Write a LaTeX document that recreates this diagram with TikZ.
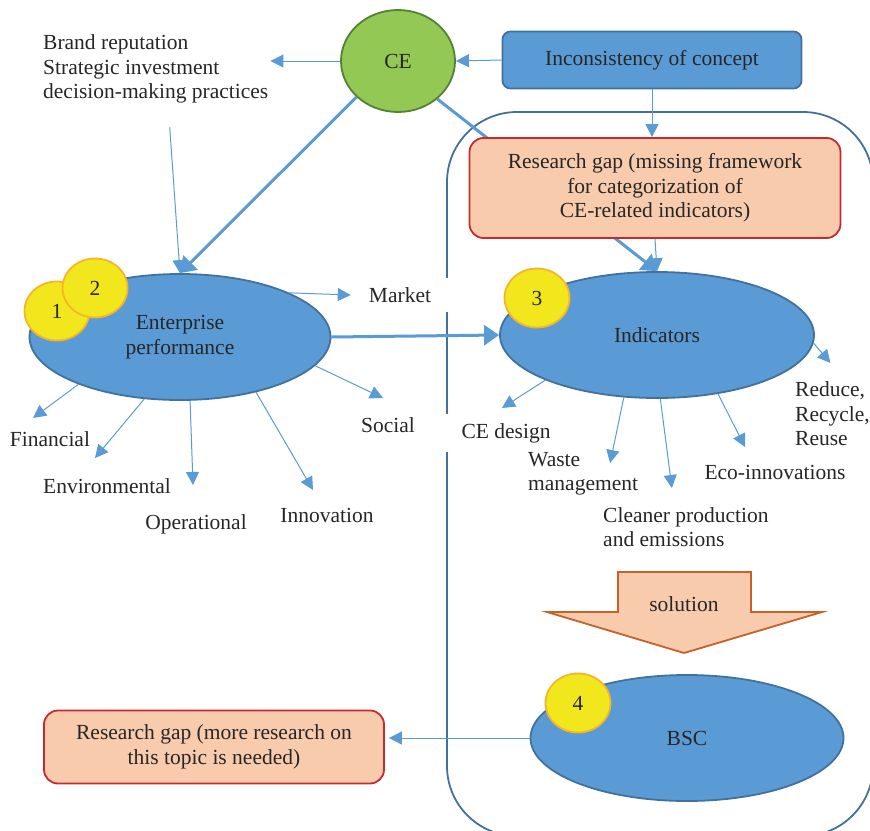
\documentclass[tikz,border=0pt]{standalone}
\usepackage{fontspec}
\setmainfont{Liberation Serif}
\usepackage{tikz}
\usetikzlibrary{shapes}
\usetikzlibrary{positioning}
\usetikzlibrary{calc}
\usetikzlibrary{arrows.meta}
\pgfdeclarelayer{back}
\pgfsetlayers{back,main}
\definecolor{ovalblue}{HTML}{5B9BD5}
\definecolor{ovaledge}{HTML}{41719C}
\definecolor{cegreen}{HTML}{92C853}
\definecolor{ceedge}{HTML}{538135}
\definecolor{badgefill}{HTML}{F2E71C}
\definecolor{badgeedge}{HTML}{F6B42B}
\definecolor{peach}{HTML}{F8CBAD}
\definecolor{gapedge}{HTML}{C62A2F}
\definecolor{soledge}{HTML}{C8602A}
\definecolor{ink}{HTML}{262626}
\tikzstyle{oval}=[ellipse,draw=ovaledge,fill=ovalblue,line width=1.8pt,minimum width=314pt,minimum height=126pt,align=center]
\tikzstyle{bubble}=[ellipse,draw=ceedge,fill=cegreen,line width=1.8pt,minimum width=114pt,minimum height=102pt]
\tikzstyle{badge}=[ellipse,draw=badgeedge,fill=badgefill,line width=1.8pt,minimum width=65pt,minimum height=59pt,inner sep=0pt]
\tikzstyle{gapbox}=[rectangle,rounded corners=14pt,draw=gapedge,fill=peach,line width=1.8pt,align=center]
\tikzstyle{conceptbox}=[rectangle,rounded corners=8pt,draw=ovaledge,fill=ovalblue,line width=1.8pt,minimum width=299pt,minimum height=57pt]
\tikzstyle{lbl}=[inner sep=2pt,align=left]
\tikzstyle{link}=[draw=ovalblue,line width=1pt,-{Triangle[length=13pt,width=13pt]}]
\tikzstyle{mainlink}=[draw=ovalblue,line width=3pt,-{Triangle[length=15pt,width=20pt]}]
\tikzstyle{frame}=[draw=ovaledge,line width=1.8pt,rounded corners=70pt]
\tikzstyle{blockarrow}=[draw=soledge,fill=peach,line width=1.8pt]

\begin{document}
\begin{tikzpicture}[x=1pt,y=-1pt,font=\fontsize{21.5}{24.5}\selectfont,text=ink]
	\useasboundingbox (0,0) rectangle (870,830);

	\node[bubble] (ce) at (398,61) {CE};
	\node[conceptbox] (incons) at (652,60) {Inconsistency of concept};
	\node[gapbox,minimum width=371pt,minimum height=100pt] (gaptop) at (655,188) {Research gap (missing framework\\for categorization of\\CE-related indicators)};

	\node[oval,minimum width=301pt] (perf) at (180,337) {Enterprise\\performance};
	\node[badge] (one) at (57,311) {1};
	\node[badge] (two) at (95,288) {2};
	\node[oval] (ind) at (657,335) {Indicators};
	\node[badge] (three) at (537,298) {3};
	\node[oval,minimum width=313pt] (bsc) at (687,738) {BSC};
	\node[badge] (four) at (578,703) {4};
	\node[gapbox,minimum width=340pt,minimum height=73pt] (gapbot) at (214,747) {Research gap (more research on\\this topic is needed)};

	\node[lbl,anchor=west] (drivers) at (41,69) {Brand reputation\\Strategic investment\\decision-making practices};
	\node[lbl,fill=white,inner xsep=18pt,inner ysep=9pt] (market) at (400,295) {Market};
	\node[lbl] (fin) at (50,439) {Financial};
	\node[lbl] (env) at (107,486) {Environmental};
	\node[lbl] (oper) at (196,524) {Operational};
	\node[lbl] (innov) at (327,515) {Innovation};
	\node[lbl] (social) at (388,425) {Social};
	\node[lbl,fill=white,inner xsep=19pt,inner ysep=9pt] (cedesign) at (506,433) {CE design};
	\node[lbl,anchor=west] (waste) at (526,474) {Waste\\management};
	\node[lbl,anchor=west] (cleaner) at (601,527) {Cleaner production\\and emissions};
	\node[lbl] (eco) at (775,472) {Eco-innovations};
	\node[lbl,anchor=west] (reuse) at (793,414) {Reduce,\\Recycle,\\Reuse};

	\draw[blockarrow] (618,572) -- (751,572) -- (751,612) -- (822,612) -- (684,653) -- (547,612) -- (618,612) -- cycle;
	\node (sol) at (684,604) {solution};

	\begin{pgfonlayer}{back}
		\clip (0,0) rectangle (870,830);
		\draw[frame] (447,112) rectangle (873,836);
		\draw[mainlink] (ce.316) -- (ind.north);
	\end{pgfonlayer}

	\draw[link] (ce.west) -- (drivers.east |- ce.west);
	\draw[link] ($(drivers.south)+(14,22)$) -- (perf.north);
	\draw[mainlink] (ce.221) -- (perf.north);
	\draw[link] (incons.west) -- (ce.east);
	\draw[link] (incons.south) -- (incons.south |- gaptop.north);
	\draw[link] (gaptop.south) -- (ind.north);

	\draw[link] (perf.22) -- (market.west);
	\draw[mainlink] (perf.east) -- (ind.west);
	\draw[link] (perf.205) -- ($(fin)+(-17,-21)$);
	\draw[link] (perf.240) -- ($(env)+(-12,-28)$);
	\draw[link] (perf.279) -- ($(oper)+(-3,-39)$);
	\draw[link] (perf.324) -- ($(innov)+(-14,-25)$);
	\draw[link] (perf.348) -- ($(social)+(-5,-27)$);

	\draw[link] (ind.202) -- ($(cedesign)+(-4,-25)$);
	\draw[link] (ind.242) -- ($(waste)+(27,-11)$);
	\draw[link] (ind.273) -- ($(cleaner)+(-14,-39)$);
	\draw[link] (ind.316) -- ($(eco)+(-30,-25)$);
	\draw[link] (ind.357) -- ($(reuse)+(-2,-51)$);

	\draw[link] (bsc.west) -- ([xshift=4pt]gapbot.east |- bsc.west);
\end{tikzpicture}
\end{document}
